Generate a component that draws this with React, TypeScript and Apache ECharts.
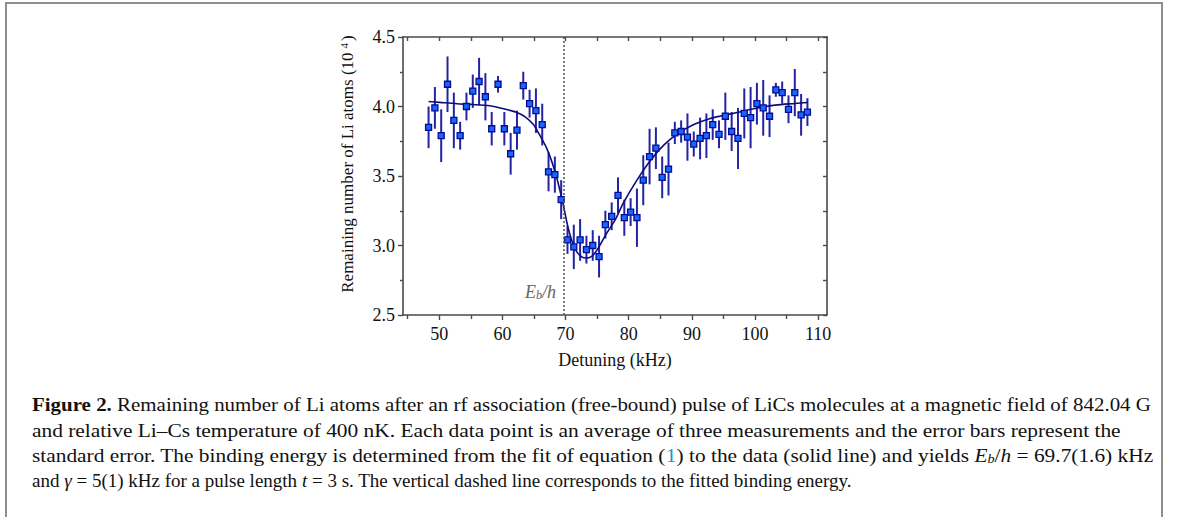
import React, { useEffect, useRef } from "react";
import * as echarts from "echarts";

const detuning = [48.3, 49.3, 50.3, 51.3, 52.3, 53.3, 54.3, 55.3, 56.3, 57.3, 58.3, 59.3, 60.3, 61.3, 62.3, 63.3, 64.3, 65.3, 66.3, 67.3, 68.3, 69.3, 70.3, 71.3, 72.3, 73.3, 74.3, 75.3, 76.3, 77.3, 78.3, 79.3, 80.3, 81.3, 82.3, 83.3, 84.3, 85.3, 86.3, 87.3, 88.3, 89.3, 90.3, 91.3, 92.3, 93.3, 94.3, 95.3, 96.3, 97.3, 98.3, 99.3, 100.3, 101.3, 102.3, 103.3, 104.3, 105.3, 106.3, 107.3, 108.3];
const atoms = [3.85, 3.99, 3.79, 4.16, 3.9, 3.79, 4.0, 4.11, 4.18, 4.07, 3.84, 4.16, 3.84, 3.66, 3.83, 4.15, 4.02, 3.97, 3.87, 3.53, 3.51, 3.33, 3.04, 2.99, 3.04, 2.97, 3.0, 2.92, 3.15, 3.21, 3.36, 3.2, 3.24, 3.2, 3.47, 3.64, 3.7, 3.49, 3.55, 3.81, 3.82, 3.78, 3.73, 3.77, 3.79, 3.87, 3.8, 3.93, 3.82, 3.77, 3.95, 3.92, 4.02, 3.99, 3.93, 4.12, 4.1, 3.98, 4.1, 3.94, 3.96];
const stdErr = [0.15, 0.15, 0.19, 0.2, 0.2, 0.1, 0.1, 0.12, 0.17, 0.17, 0.12, 0.06, 0.12, 0.15, 0.14, 0.1, 0.1, 0.16, 0.15, 0.14, 0.13, 0.14, 0.1, 0.16, 0.15, 0.1, 0.11, 0.15, 0.1, 0.1, 0.13, 0.13, 0.1, 0.21, 0.18, 0.2, 0.15, 0.15, 0.19, 0.08, 0.08, 0.17, 0.09, 0.15, 0.16, 0.11, 0.1, 0.17, 0.14, 0.22, 0.18, 0.22, 0.15, 0.2, 0.15, 0.05, 0.08, 0.1, 0.17, 0.15, 0.1];

const fitX = [48.3, 50, 52.8, 55, 58, 60.5, 62.3, 63.6, 64.9, 65.7, 67.1, 68.4, 69.5, 70.5, 71.5, 72.5, 73.3, 74.0, 74.8, 76.4, 77.8, 79.2, 81.3, 83.4, 85.5, 87.6, 90.3, 92.9, 95, 97, 100, 103.2, 106.3, 108.3];
const fitY = [4.036, 4.03, 4.02, 4.015, 4.005, 3.98, 3.957, 3.925, 3.87, 3.81, 3.69, 3.52, 3.32, 3.11, 2.975, 2.92, 2.91, 2.918, 2.955, 3.08, 3.18, 3.31, 3.47, 3.61, 3.72, 3.8, 3.87, 3.914, 3.935, 3.955, 3.985, 4.01, 4.022, 4.029];

const bindingEnergy = 69.7;
const xMajorTicks = [50, 60, 70, 80, 90, 100, 110];
const xMinorTicks = [45, 55, 65, 75, 85, 95, 105];
const X_MIN = 44.25;
const X_MAX = 111.4;
const Y_MIN = 2.5;
const Y_MAX = 4.5;

const captionLines = [
  "{bold|Figure 2.} Remaining number of Li atoms after an rf association (free-bound) pulse of LiCs molecules at a magnetic field of 842.04 G",
  "and relative Li–Cs temperature of 400 nK. Each data point is an average of three measurements and the error bars represent the",
  "standard error. The binding energy is determined from the fit of equation ({link|1}) to the data (solid line) and yields {it|E}{sub|b}/{it|h} = 69.7(1.6) kHz",
  "and {it|γ} = 5(1) kHz for a pulse length {it|t} = 3 s. The vertical dashed line corresponds to the fitted binding energy.",
];
const captionY = [405, 431, 456, 481];
const captionScale = [1.163, 1.19, 1.187, 1.056];

const SERIF = "'Liberation Serif', 'Times New Roman', serif";
const AXIS_COLOR = "#4a4a4a";

export default function App() {
  const ref = useRef<HTMLDivElement>(null);

  useEffect(() => {
    if (!ref.current) return;
    const chart = echarts.init(ref.current, undefined, { renderer: "svg" });

    const errData = detuning.map((x, i) => [x, atoms[i], stdErr[i]]);
    const ptData = detuning.map((x, i) => [x, atoms[i]]);
    const fitData = fitX.map((x, i) => [x, fitY[i]]);

    const capRich = {
      bold: { fontFamily: SERIF, fontSize: 18, fontWeight: "bold", fill: "#111" },
      link: { fontFamily: SERIF, fontSize: 18, fill: "#2a8fc8" },
      it: { fontFamily: SERIF, fontSize: 18, fontStyle: "italic", fill: "#111" },
      sub: { fontFamily: SERIF, fontSize: 12, fontStyle: "italic", fill: "#111", verticalAlign: "bottom", lineHeight: 12, padding: [9, 0, 0, 0] },
    };

    chart.setOption({
      animation: false,
      backgroundColor: "#ffffff",
      grid: { left: 403, top: 37, width: 424, height: 278, containLabel: false },
      xAxis: [
        {
          type: "value",
          position: "bottom",
          min: X_MIN,
          max: X_MAX,
          axisLine: { show: true, onZero: false, lineStyle: { color: AXIS_COLOR, width: 1.6 } },
          axisTick: { show: true, inside: false, length: 5, customValues: xMajorTicks, lineStyle: { color: AXIS_COLOR, width: 1.4 } },
          axisLabel: { show: true, customValues: xMajorTicks, margin: 10, color: "#111", fontFamily: SERIF, fontSize: 18 },
          splitLine: { show: false },
          name: "Detuning (kHz)",
          nameLocation: "middle",
          nameGap: 36,
          nameTextStyle: { color: "#111", fontFamily: SERIF, fontSize: 18 },
        },
        {
          type: "value",
          position: "bottom",
          min: X_MIN,
          max: X_MAX,
          axisLine: { show: false },
          axisTick: { show: true, inside: false, length: 4, customValues: xMinorTicks, lineStyle: { color: AXIS_COLOR, width: 1.4 } },
          axisLabel: { show: false },
          splitLine: { show: false },
        },
        {
          type: "value",
          position: "top",
          min: X_MIN,
          max: X_MAX,
          axisLine: { show: true, onZero: false, lineStyle: { color: AXIS_COLOR, width: 1.6 } },
          axisTick: { show: true, inside: true, length: 4, customValues: [...xMajorTicks, ...xMinorTicks], lineStyle: { color: AXIS_COLOR, width: 1.4 } },
          axisLabel: { show: false },
          splitLine: { show: false },
        },
      ],
      yAxis: [
        {
          type: "value",
          position: "left",
          min: Y_MIN,
          max: Y_MAX,
          interval: 0.5,
          axisLine: { show: true, onZero: false, lineStyle: { color: AXIS_COLOR, width: 1.6 } },
          axisTick: { show: true, inside: false, length: 5, lineStyle: { color: AXIS_COLOR, width: 1.4 } },
          minorTick: { show: true, splitNumber: 2, length: 3, lineStyle: { color: AXIS_COLOR, width: 1.4 } },
          axisLabel: { show: true, margin: 8, color: "#111", fontFamily: SERIF, fontSize: 18, formatter: (v: number) => v.toFixed(1) },
          splitLine: { show: false },
        },
        {
          type: "value",
          position: "right",
          min: Y_MIN,
          max: Y_MAX,
          interval: 0.5,
          axisLine: { show: true, onZero: false, lineStyle: { color: AXIS_COLOR, width: 1.6 } },
          axisTick: { show: true, inside: true, length: 4, lineStyle: { color: AXIS_COLOR, width: 1.4 } },
          minorTick: { show: true, splitNumber: 2, length: 4, lineStyle: { color: AXIS_COLOR, width: 1.4 } },
          axisLabel: { show: false },
          splitLine: { show: false },
        },
      ],
      series: [
        {
          type: "custom",
          name: "error",
          xAxisIndex: 0,
          yAxisIndex: 0,
          encode: { x: 0, y: 1 },
          data: errData,
          z: 2,
          renderItem: (params: any, api: any) => {
            const x = api.value(0);
            const y = api.value(1);
            const e = api.value(2);
            const p1 = api.coord([x, y - e]);
            const p2 = api.coord([x, y + e]);
            return {
              type: "line",
              shape: { x1: p1[0], y1: p1[1], x2: p2[0], y2: p2[1] },
              style: { stroke: "#2323a3", lineWidth: 2 },
            };
          },
        },
        {
          type: "line",
          name: "fit",
          xAxisIndex: 0,
          yAxisIndex: 0,
          data: fitData,
          smooth: 0.3,
          showSymbol: false,
          symbol: "none",
          z: 3,
          lineStyle: { color: "#0c0c80", width: 1.6 },
          markLine: {
            silent: true,
            symbol: "none",
            label: { show: false },
            lineStyle: { color: "#5a5a5a", type: [2, 2], width: 1.6 },
            data: [{ xAxis: bindingEnergy }],
          },
        },
        {
          type: "scatter",
          name: "data",
          xAxisIndex: 0,
          yAxisIndex: 0,
          data: ptData,
          symbol: "rect",
          symbolSize: 6,
          z: 4,
          itemStyle: { color: "#1268ff", borderColor: "#0a0a90", borderWidth: 1.3, opacity: 1 },
        },
      ],
      graphic: [
        {
          type: "rect",
          silent: true,
          shape: { x: 6, y: 3, width: 1156, height: 540 },
          style: { fill: "none", stroke: "#8e8e8e", lineWidth: 2 },
        },
        {
          type: "text",
          silent: true,
          x: 347,
          y: 164,
          rotation: Math.PI / 2,
          style: {
            text: "Remaining number of Li atoms (10{sup|4})",
            align: "center",
            verticalAlign: "middle",
            fontFamily: SERIF,
            fontSize: 17,
            fill: "#111",
            rich: {
              sup: { fontFamily: SERIF, fontSize: 11, verticalAlign: "top", lineHeight: 11, padding: [0, 2, 0, 4], fill: "#111" },
            },
          },
        },
        {
          type: "text",
          silent: true,
          x: 556,
          y: 292,
          style: {
            text: "{it|E}{sub|b}{n|/}{it|h}",
            align: "right",
            verticalAlign: "middle",
            fontFamily: SERIF,
            fontSize: 18,
            fill: "#666",
            rich: {
              it: { fontFamily: SERIF, fontSize: 18, fontStyle: "italic", fill: "#666" },
              n: { fontFamily: SERIF, fontSize: 18, fontStyle: "italic", fill: "#666" },
              sub: { fontFamily: SERIF, fontSize: 12, fontStyle: "italic", fill: "#666", verticalAlign: "bottom", lineHeight: 12, padding: [10, 0, 0, 0] },
            },
          },
        },
        ...captionLines.map((t, i) => ({
          type: "text",
          silent: true,
          x: 32,
          y: captionY[i],
          scaleX: captionScale[i],
          style: {
            text: t,
            align: "left",
            verticalAlign: "middle",
            fontFamily: SERIF,
            fontSize: 18,
            fill: "#111",
            rich: capRich,
          },
        })),
      ],
    });

    return () => {
      chart.dispose();
    };
  }, []);

  return (
    <div
      ref={ref}
      style={{ position: "absolute", left: 0, top: 0, width: 1179, height: 517 }}
    />
  );
}
